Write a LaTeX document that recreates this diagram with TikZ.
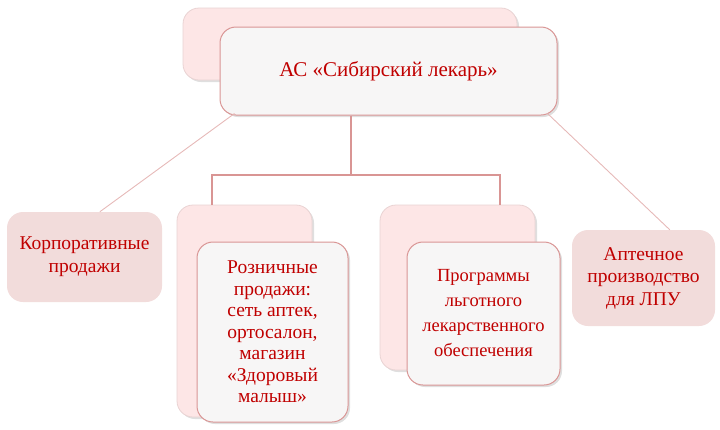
\documentclass[tikz,border=0pt]{standalone}
\usepackage{fontspec}
\setmainfont{Liberation Serif}
\usetikzlibrary{calc,shadows}
\definecolor{txtred}{HTML}{C00000}
\definecolor{backpink}{HTML}{FDE6E6}
\definecolor{backline}{HTML}{E9D3D3}
\definecolor{frontfill}{HTML}{F7F6F6}
\definecolor{frontline}{HTML}{D99594}
\definecolor{sidefill}{HTML}{F2DCDB}
\definecolor{treeline}{HTML}{D99594}
\definecolor{thinline}{HTML}{E6B9B8}
\begin{document}
\begin{tikzpicture}[x=1pt, y=-1pt,
  backbox/.style={draw=backline, fill=backpink, rounded corners=16pt, line width=0.8pt,
    drop shadow={shadow xshift=2pt, shadow yshift=-2pt, opacity=0.25, fill=gray}},
  frontbox/.style={draw=frontline, fill=frontfill, rounded corners=16pt, line width=1pt,
    text=txtred, align=center,
    drop shadow={shadow xshift=2pt, shadow yshift=-2pt, opacity=0.25, fill=gray}},
  sidebox/.style={fill=sidefill, rounded corners=16pt, text=txtred, align=center},
  tree/.style={draw=treeline, line width=2.4pt},
  thin/.style={draw=thinline, line width=0.9pt}]
\useasboundingbox (0,0) rectangle (720,429);
\node[backbox, minimum width=334pt, minimum height=72pt] (topback) at (350,44) {};
\node[frontbox, minimum width=337pt, minimum height=88pt, font=\fontsize{21}{25}\selectfont] (topfront) at (388.5,71) {АС «Сибирский лекарь»};
\node[sidebox, minimum width=155pt, minimum height=90pt, font=\fontsize{19.5}{23}\selectfont] (corp) at (84.5,257) {Корпоративные\\продажи};
\node[backbox, minimum width=135pt, minimum height=212pt] (retailback) at (244.5,311) {};
\node[frontbox, minimum width=151pt, minimum height=180pt, font=\fontsize{19.5}{21.5}\selectfont] (retailfront) at (272.5,332) {Розничные\\продажи:\\сеть аптек,\\ортосалон,\\магазин\\«Здоровый\\малыш»};
\node[backbox, minimum width=155pt, minimum height=165pt] (progback) at (457.5,287.5) {};
\node[frontbox, minimum width=153pt, minimum height=143pt, font=\fontsize{18.5}{25}\selectfont] (progfront) at (483.5,313.5) {Программы\\льготного\\лекарственного\\обеспечения};
\node[sidebox, minimum width=143pt, minimum height=96pt, font=\fontsize{19.5}{22.5}\selectfont] (apt) at (643.5,278) {Аптечное\\производство\\для ЛПУ};
\coordinate (split) at (351,175);
\coordinate (lleg) at (212,175);
\coordinate (rleg) at (500,175);
\draw[tree] (topfront.south -| split) -- (split);
\draw[tree] (lleg |- retailback.north) -- (lleg) -- (rleg) -- (rleg |- progback.north);
\draw[thin] ($(topfront.south west)+(15,-2)$) -- ($(corp.north west)+(93,0)$);
\draw[thin] ($(topfront.south east)+(-10,-2)$) -- ($(apt.north west)+(98,0)$);
\end{tikzpicture}
\end{document}
